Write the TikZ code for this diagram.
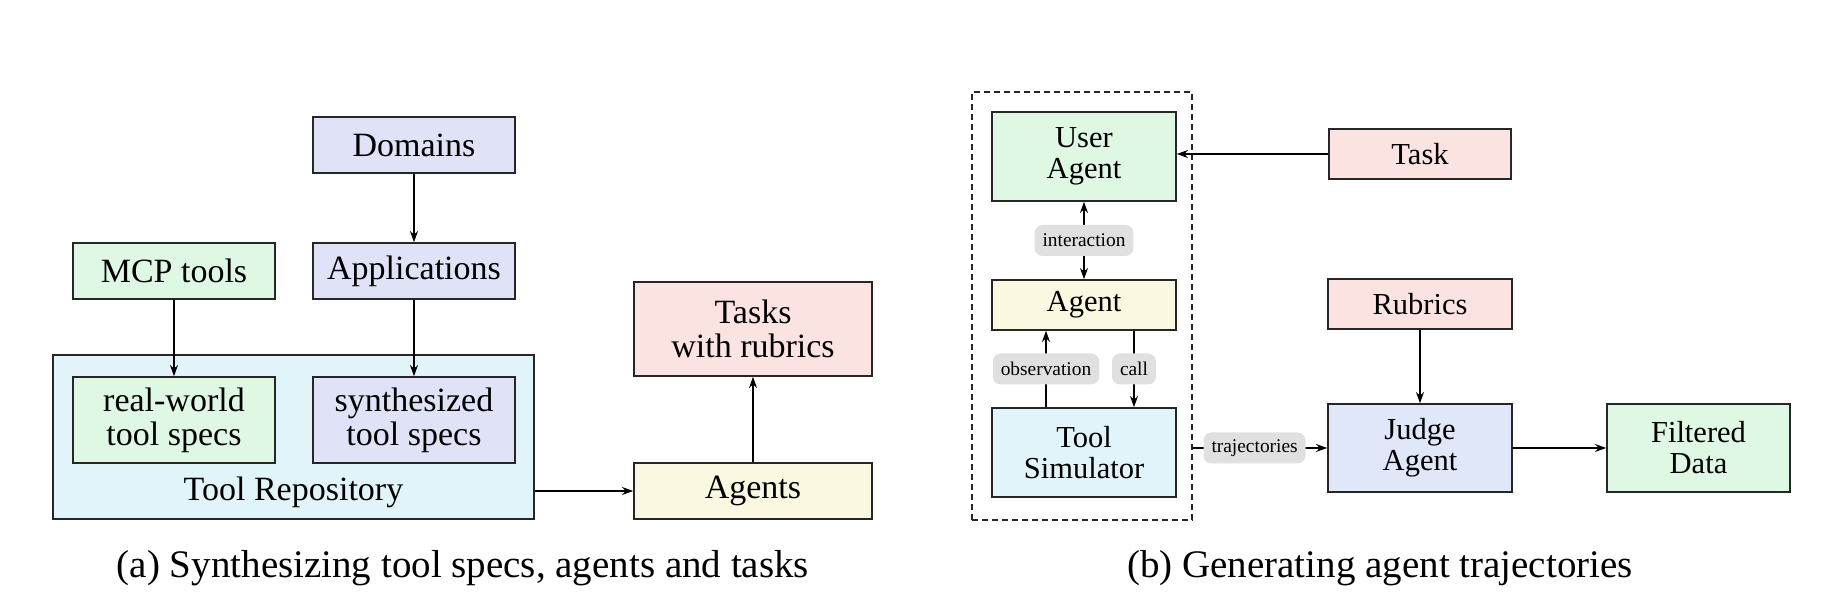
\documentclass[tikz,border=0pt]{standalone}
\usepackage{fontspec}
\setmainfont{Liberation Serif}
\usetikzlibrary{arrows.meta,calc}
\definecolor{cgreen}{RGB}{223,248,227}
\definecolor{clav}{RGB}{224,227,248}
\definecolor{ccyan}{RGB}{224,244,250}
\definecolor{cpink}{RGB}{250,227,224}
\definecolor{cyellow}{RGB}{250,248,225}
\definecolor{cblue}{RGB}{223,231,248}
\definecolor{clbl}{RGB}{224,224,224}
\begin{document}
\begin{tikzpicture}[x=0.5pt,y=-0.5pt,
  boxa/.style={draw=black!85, line width=0.8pt, align=center, inner sep=0pt,
    font=\fontsize{17}{17}\selectfont, minimum width=101pt},
  boxb/.style={draw=black!85, line width=0.8pt, align=center, inner sep=0pt,
    font=\fontsize{15.25}{15.5}\selectfont, minimum width=92pt},
  lbl/.style={fill=clbl, rounded corners=4pt, inner xsep=4pt, inner ysep=0pt,
    minimum height=15.5pt, font=\fontsize{9.7}{10}\selectfont},
  arr/.style={-{Stealth[length=5.6pt,width=4pt]}, line width=0.7pt},
  darr/.style={{Stealth[length=5.6pt,width=4pt]}-{Stealth[length=5.6pt,width=4pt]}, line width=0.7pt},
  capt/.style={font=\fontsize{19.5}{20}\selectfont}
]
\useasboundingbox (0,0) rectangle (1833,597);

% ---------- (a) ----------
\node[boxa, fill=ccyan, minimum width=240.5pt, minimum height=82pt] (repo) at (293.5,437) {};
\node[font=\fontsize{17}{17}\selectfont] (repolbl) at (293.5,492) {Tool Repository};
\node[boxa, fill=clav, minimum height=28pt] (dom) at (414,145) {Domains};
\node[boxa, fill=clav, minimum height=28pt] (app) at (414,271) {Applications};
\node[boxa, fill=cgreen, minimum height=28pt] (mcp) at (174,271) {MCP tools};
\node[boxa, fill=cgreen, minimum height=43pt] (real) at (174,420) {real-world\\tool specs};
\node[boxa, fill=clav, minimum height=43pt] (syn) at (414,420) {synthesized\\tool specs};
\node[boxa, fill=cpink, minimum width=119pt, minimum height=47pt] (tasks) at (753,329) {Tasks\\with rubrics};
\node[boxa, fill=cyellow, minimum width=119pt, minimum height=28pt] (agents) at (753,491) {Agents};

\draw[arr] (dom.south) -- (app.north);
\draw[arr] (app.south) -- (syn.north);
\draw[arr] (mcp.south) -- (real.north);
\draw[arr] (agents.west -| repo.east) -- (agents.west);
\draw[arr] (agents.north) -- (tasks.south);

\node[capt] (capa) at (463,568) {(a) Synthesizing tool specs, agents and tasks};

% ---------- (b) ----------
\node[draw=black!85, line width=0.75pt, dash pattern=on 3pt off 2pt,
  minimum width=110pt, minimum height=214pt, inner sep=0pt] (outer) at (1082,306) {};
\node[boxb, fill=cgreen, minimum height=44.5pt] (user) at (1084,156.5) {User\\Agent};
\node[boxb, fill=cyellow, minimum height=25pt] (agent) at (1084,305) {Agent};
\node[boxb, fill=ccyan, minimum height=44.5pt] (sim) at (1084,452.5) {Tool\\Simulator};
\node[boxb, fill=cpink, minimum width=91pt, minimum height=25pt] (task) at (1420,154) {Task};
\node[boxb, fill=cpink, minimum height=25pt] (rub) at (1420,304) {Rubrics};
\node[boxb, fill=cblue, minimum height=44pt] (judge) at (1420,448) {Judge\\Agent};
\node[boxb, fill=cgreen, minimum width=91.5pt, minimum height=44pt] (filt) at (1698.5,448) {Filtered\\Data};

\draw[darr] (agent.north) -- (user.south) node[midway, lbl] (linter) {interaction};
\draw[arr] ($(sim.north)+(-38,0)$) -- ($(agent.south)+(-38,0)$) node[midway, lbl] (lobs) {observation};
\draw[arr] ($(agent.south)+(50,0)$) -- ($(sim.north)+(50,0)$) node[midway, lbl] (lcall) {call};
\draw[arr] (task.west) -- (task.west -| user.east);
\draw[arr] (rub.south) -- (judge.north);
\draw[arr] (judge.east) -- (filt.west);
\draw[arr] (judge.west -| outer.east) -- (judge.west) node[pos=0.46, lbl] (ltraj) {trajectories};

\node[capt] (capb) at (1380,568) {(b) Generating agent trajectories};
\end{tikzpicture}
\end{document}
